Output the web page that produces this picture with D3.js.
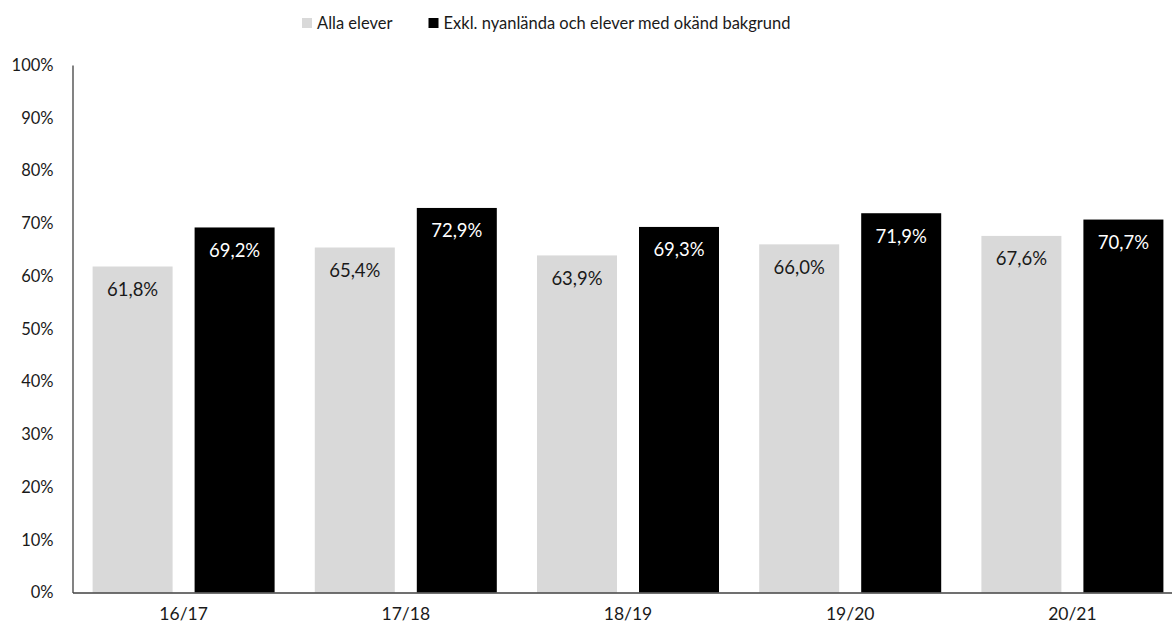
<!DOCTYPE html>
<html>
<head>
<meta charset="utf-8">
<script src="https://cdn.jsdelivr.net/npm/d3@7"></script>
<style>
  html, body { margin: 0; padding: 0; background: #fff; }
  svg { display: block; }
  text { font-family: Lato, "Open Sans", sans-serif; }
</style>
</head>
<body>
<svg id="chart" width="1172" height="630"></svg>
<script>
const categories = ["16/17", "17/18", "18/19", "19/20", "20/21"];
const seriesNames = ["Alla elever", "Exkl. nyanlända och elever med okänd bakgrund"];
const allaElever = [61.8, 65.4, 63.9, 66.0, 67.6];
const exklNyanlanda = [69.2, 72.9, 69.3, 71.9, 70.7];
const yTicks = [0, 10, 20, 30, 40, 50, 60, 70, 80, 90, 100];
const colors = ["#d9d9d9", "#000000"];
const labelColors = ["#1a1a1a", "#ffffff"];
const FONT = 'Lato, "Open Sans", sans-serif';

const svg = d3.select("#chart");
const left = 72.5, catStep = 222.2;
const x0 = d3.scaleBand().domain(categories).range([left, left + catStep * categories.length]).padding(0);
const x1 = d3.scaleBand().domain([0, 1]).range([0, x0.bandwidth()]).paddingInner(0.2157).paddingOuter(0.197);
const y = d3.scaleLinear().domain([0, 100]).range([592.5, 65]);

const series = [allaElever, exklNyanlanda];

const groups = svg.append("g").selectAll("g").data(categories).join("g")
  .attr("transform", c => `translate(${x0(c)},0)`);

groups.each(function(c, i) {
  const g = d3.select(this);
  series.forEach((vals, s) => {
    g.append("rect")
      .attr("x", x1(s))
      .attr("width", x1.bandwidth())
      .attr("y", y(vals[i]))
      .attr("height", y(0) - y(vals[i]))
      .attr("fill", colors[s]);
    g.append("text")
      .attr("x", x1(s) + x1.bandwidth() / 2)
      .attr("y", y(vals[i]) + 29.5)
      .attr("text-anchor", "middle")
      .attr("font-size", 18.5)
      .attr("fill", labelColors[s])
      .text(vals[i].toFixed(1).replace(".", ",") + "%");
  });
});

const yAxis = d3.axisLeft(y).tickValues(yTicks).tickSize(0).tickPadding(19)
  .tickFormat(d => d + "%");
const gy = svg.append("g").attr("transform", `translate(${left},0)`).call(yAxis);
gy.select(".domain").attr("stroke", "#404040").attr("stroke-width", 1.3);
gy.selectAll("text").attr("font-size", 16.5).attr("fill", "#1a1a1a").style("font-family", FONT);

const xAxis = d3.axisBottom(x0).tickSize(0).tickPadding(15);
const gx = svg.append("g").attr("transform", `translate(0,${y(0)})`).call(xAxis);
gx.select(".domain").attr("stroke", "#404040").attr("stroke-width", 1.3);
gx.selectAll("text").attr("font-size", 17.5).attr("fill", "#1a1a1a").style("font-family", FONT);

const legendItems = [{ x: 302, name: seriesNames[0] }, { x: 428.5, name: seriesNames[1] }];
legendItems.forEach((d, i) => {
  svg.append("rect").attr("x", d.x).attr("y", 18).attr("width", 10).attr("height", 10).attr("fill", colors[i]);
  svg.append("text").attr("x", d.x + 15).attr("y", 29)
    .attr("font-size", 16.5).attr("fill", "#1a1a1a").text(d.name);
});
</script>
</body>
</html>
